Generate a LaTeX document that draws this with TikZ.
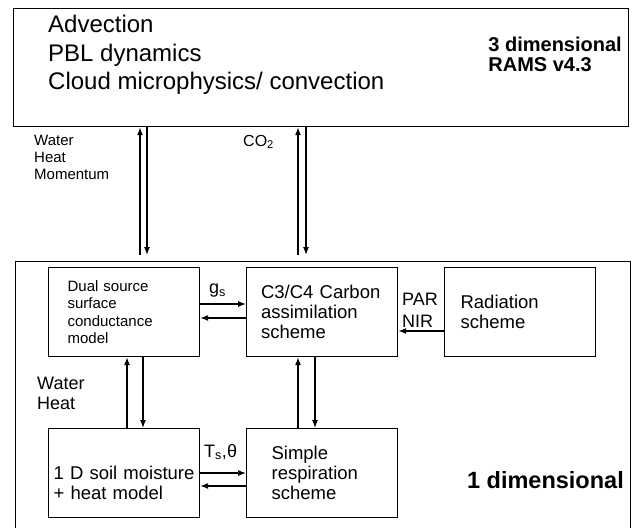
\documentclass[tikz,border=0pt]{standalone}
\usepackage{fontspec}
\setmainfont{Liberation Sans}
\usetikzlibrary{arrows.meta}
\usetikzlibrary{positioning}
\newcommand{\fsz}[2]{\fontsize{#1}{#2}\selectfont}
\tikzset{frame/.style = {draw, line width = 1.2pt, anchor = north west, inner sep = 0}}
\tikzset{box/.style = {frame, minimum width = 151pt, minimum height = 89pt, align = left, font = \fsz{18.5}{20}}}
\tikzset{flow/.style = {line width = 1.2pt, -{Latex[length = 8pt, width = 6pt]}}}
\tikzset{lbl/.style = {anchor = west, inner sep = 0, align = left, font = \fsz{18}{20}}}

\begin{document}
\begin{tikzpicture}[x = 1pt, y = -1pt]
  \clip (0, 0) rectangle (634, 527);
  \node [frame, minimum width = 615pt, minimum height = 118pt] (rams) at (13, 8) {};
  \node [frame, minimum width = 615pt, minimum height = 300pt] (oned) at (15, 261) {};
  \node [lbl, font = \fsz{24}{28.5}] (procs) at (48, 55) {Advection\\PBL dynamics\\Cloud microphysics/ convection};
  \node [lbl, anchor = east, font = \fsz{20}{20}\bfseries] (dim3) at (622, 54) {3 dimensional\\RAMS v4.3};
  \node [lbl, anchor = east, font = \fsz{23.5}{26}\bfseries] (dim1) at (624, 480) {1 dimensional};

  \node [box, text width = 113pt, font = \fsz{15}{17.5}] (dual) at (48, 267) {Dual source\\surface\\conductance\\model};
  \node [box, text width = 122pt] (carbon) at (246, 267) {C3/C4 Carbon\\assimilation\\scheme};
  \node [box, text width = 119pt] (rad) at (444, 267) {Radiation\\scheme};
  \node [box, text width = 141pt] (soil) at (48, 428) {\rule{0pt}{33pt}1 D soil moisture\\+ heat model};
  \node [box, text width = 101pt] (resp) at (246, 428) {Simple\\respiration\\scheme};

  \node [lbl, font = \fsz{15}{17}] (wtop) at (34, 157) {Water\\Heat\\Momentum};
  \node [lbl, font = \fsz{16}{18}] (co2) at (243, 142) {CO\textsubscript{2}};
  \node [lbl] (gs) at (209, 291) {g\textsubscript{s}};
  \node [lbl, font = \fsz{18}{22}] (parnir) at (402, 310) {PAR\\NIR};
  \node [lbl] (wbot) at (37, 393) {Water\\Heat};
  \node [lbl] (tst) at (204, 452) {T\textsubscript{s},θ};

  \draw [flow, shorten <= 6pt] (oned.north -| 140,0) -- (rams.south -| 140,0);
  \draw [flow, shorten >= 6pt] (rams.south -| 147,0) -- (oned.north -| 147,0);
  \draw [flow, shorten <= 6pt] (oned.north -| 298,0) -- (rams.south -| 298,0);
  \draw [flow, shorten >= 6pt] (rams.south -| 306,0) -- (oned.north -| 306,0);

  \draw [flow] (dual.east |- 0,304) -- (carbon.west |- 0,304);
  \draw [flow] (carbon.west |- 0,318) -- (dual.east |- 0,318);
  \draw [flow] (rad.west |- 0,331) -- (carbon.east |- 0,331);
  \draw [flow] (soil.north -| 127,0) -- (dual.south -| 127,0);
  \draw [flow] (dual.south -| 143,0) -- (soil.north -| 143,0);
  \draw [flow] (resp.north -| 298,0) -- (carbon.south -| 298,0);
  \draw [flow] (carbon.south -| 315,0) -- (resp.north -| 315,0);
  \draw [flow] (soil.east |- 0,473) -- (resp.west |- 0,473);
  \draw [flow] (resp.west |- 0,486) -- (soil.east |- 0,486);
\end{tikzpicture}
\end{document}
